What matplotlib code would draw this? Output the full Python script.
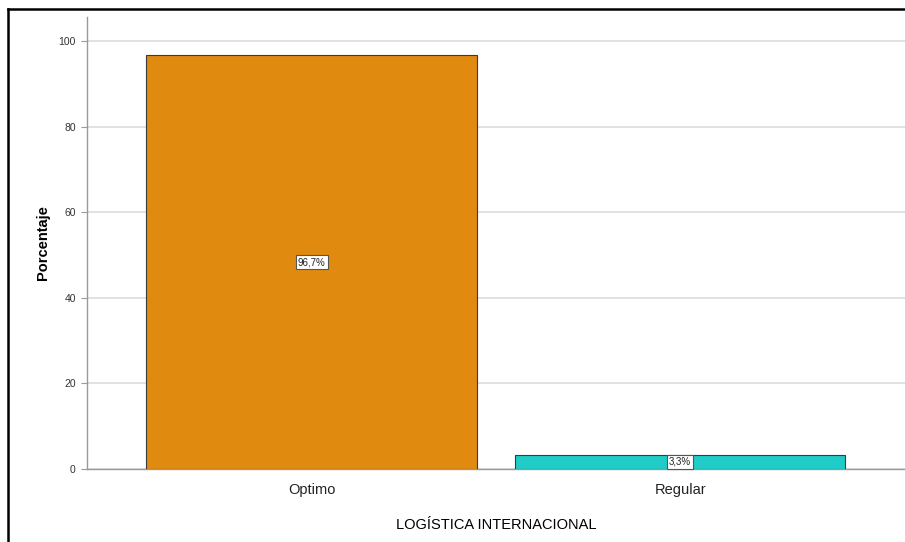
import matplotlib.pyplot as plt
from matplotlib.lines import Line2D

categorias = ['Optimo', 'Regular']
porcentajes = [96.7, 3.3]
etiquetas = ['96,7%', '3,3%']
colores = ['#E08A10', '#20CCC8']

plt.rcParams['font.family'] = ['Liberation Sans', 'DejaVu Sans']

fig = plt.figure(figsize=(9.05, 5.42), dpi=100)
ax = fig.add_axes([0.0961, 0.1347, 0.9039, 0.834])

x = list(range(len(categorias)))
ax.bar(x, porcentajes, width=0.897, color=colores, edgecolor='#3a3a3a', linewidth=0.8, zorder=3)

for xi, v, t in zip(x, porcentajes, etiquetas):
    ax.text(xi, v / 2, t, ha='center', va='center', fontsize=7, color='#222222', zorder=4,
            bbox=dict(boxstyle='square,pad=0.2', fc='white', ec='#555555', lw=0.8))

ax.set_xlim(-0.61, 1.61)
ax.set_ylim(0, 105.6)
ax.set_yticks([0, 20, 40, 60, 80, 100])
ax.set_xticks(x)
ax.set_xticklabels(categorias, fontsize=10.5, color='#222222')
ax.tick_params(axis='x', length=0, pad=10)
ax.tick_params(axis='y', labelsize=7.5, length=4, color='#999999', labelcolor='#333333', pad=4)
ax.yaxis.grid(True, color='#DCDCDC', lw=1.2, zorder=0)
ax.set_axisbelow(True)

for s in ['top', 'right']:
    ax.spines[s].set_visible(False)
for s in ['left', 'bottom']:
    ax.spines[s].set_color('#999999')
    ax.spines[s].set_linewidth(1)

ax.set_ylabel('Porcentaje', fontsize=10.5, fontweight='bold', labelpad=6)
ax.set_xlabel('LOGÍSTICA INTERNACIONAL', fontsize=10.5, labelpad=15)

# marco exterior (izquierda y arriba)
fig.add_artist(Line2D([8 / 905, 8 / 905], [0, 1 - 9 / 542], color='black', lw=1.8, transform=fig.transFigure))
fig.add_artist(Line2D([8 / 905, 1], [1 - 9 / 542, 1 - 9 / 542], color='black', lw=1.8, transform=fig.transFigure))

fig.savefig('out.png', dpi=100)
